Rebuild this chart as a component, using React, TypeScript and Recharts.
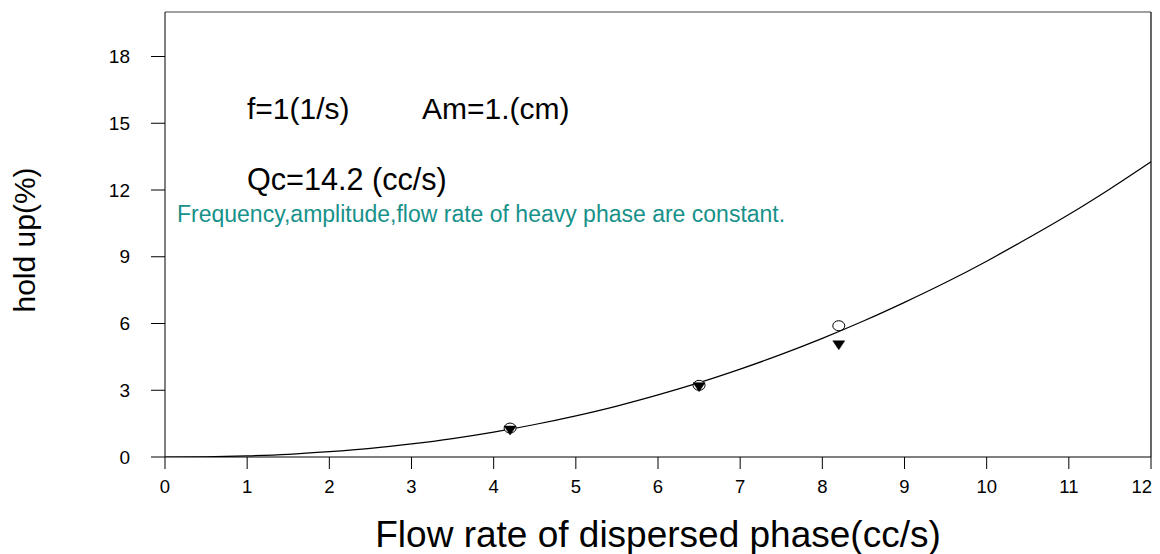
import React from 'react';
import { ComposedChart, Line, Scatter, XAxis, YAxis, Customized, ReferenceLine } from 'recharts';

const xTicks = [0, 1, 2, 3, 4, 5, 6, 7, 8, 9, 10, 11, 12];
const yTicks = [0, 3, 6, 9, 12, 15, 18];

const curveX = [0, 0.5, 1, 1.5, 2, 2.5, 3, 3.5, 4, 4.5, 5, 5.5, 6, 6.5, 7, 7.5, 8, 8.5, 9, 9.5, 10, 10.5, 11, 11.5, 12];
const curveY = [0, 0.01, 0.05, 0.12, 0.24, 0.39, 0.59, 0.83, 1.12, 1.46, 1.85, 2.29, 2.79, 3.34, 3.95, 4.61, 5.33, 6.11, 6.95, 7.84, 8.8, 9.83, 10.9, 12.05, 13.27];

const circleX = [4.2, 6.5, 8.2];
const circleY = [1.3, 3.22, 5.9];
const triX = [4.2, 6.5, 8.2];
const triY = [1.19, 3.14, 5.02];

const curveData = curveX.map((x, i) => ({ x, y: curveY[i] }));
const circleData = circleX.map((x, i) => ({ x, y: circleY[i] }));
const triData = triX.map((x, i) => ({ x, y: triY[i] }));

const FONT = 'Liberation Sans, Arial, Helvetica, sans-serif';
const LAST_X = xTicks[xTicks.length - 1];

const CircleShape = (props: any) => {
  const { cx, cy } = props;
  if (cx == null || cy == null) return null;
  return <ellipse cx={cx} cy={cy} rx={6} ry={5} fill="#fff" stroke="#000" strokeWidth={1} />;
};

const TriShape = (props: any) => {
  const { cx, cy } = props;
  if (cx == null || cy == null) return null;
  return <path d={`M${cx - 6},${cy - 4.5} L${cx + 6},${cy - 4.5} L${cx},${cy + 4.5} Z`} fill="#000" stroke="#000" strokeWidth={0.5} />;
};

const XTick = (props: any) => {
  const { x, y, payload } = props;
  const isLast = Number(payload?.value) === LAST_X;
  return (
    <text x={isLast ? x + 1 : x} y={y} dy="0.71em" textAnchor={isLast ? 'end' : 'middle'} fill="#000" fontSize={18.5} fontFamily={FONT}>
      {payload.value}
    </text>
  );
};

const Annotations = () => (
  <g fontFamily={FONT}>
    <text x={239} y={111} fontSize={30} fill="#000">f=1(1/s)</text>
    <text x={414} y={111} fontSize={30} fill="#000">Am=1.(cm)</text>
    <text x={239} y={182} fontSize={30.6} fill="#000">Qc=14.2 (cc/s)</text>
    <text x={169} y={213.5} fontSize={23} fill="#17918a">Frequency,amplitude,flow rate of heavy phase are constant.</text>
    <text x={650} y={539} fontSize={37} fill="#000" textAnchor="middle">Flow rate of dispersed phase(cc/s)</text>
    <text x={0} y={0} fontSize={30} fill="#000" textAnchor="middle" transform="translate(27,232) rotate(-90)">hold up(%)</text>
  </g>
);

export default function App() {
  return (
    <div style={{ width: 1144, height: 546 }}>
      <ComposedChart width={1144} height={546} margin={{ top: 4, right: 1, left: 0, bottom: 0 }}>
        <XAxis
          xAxisId="b"
          dataKey="x"
          type="number"
          domain={[0, 12]}
          ticks={xTicks}
          interval={0}
          height={97}
          tickSize={12}
          tickMargin={11}
          stroke="#000"
          tick={<XTick />}
          allowDataOverflow
        />
        <YAxis
          yAxisId="l"
          type="number"
          domain={[0, 20]}
          ticks={yTicks}
          interval={0}
          width={157}
          tickSize={14}
          tickMargin={21}
          stroke="#000"
          tick={{ fill: '#000', fontSize: 19, fontFamily: FONT }}
          allowDataOverflow
        />
        <ReferenceLine xAxisId="b" yAxisId="l" y={20} stroke="#808080" strokeWidth={1.5} ifOverflow="visible" />
        <ReferenceLine xAxisId="b" yAxisId="l" x={12} stroke="#000" strokeWidth={1.2} ifOverflow="visible" />
        <Line
          xAxisId="b"
          yAxisId="l"
          data={curveData}
          dataKey="y"
          type="monotone"
          stroke="#000"
          strokeWidth={1.2}
          dot={false}
          activeDot={false}
          isAnimationActive={false}
        />
        <Scatter xAxisId="b" yAxisId="l" data={circleData} dataKey="y" shape={CircleShape} isAnimationActive={false} />
        <Scatter xAxisId="b" yAxisId="l" data={triData} dataKey="y" shape={TriShape} isAnimationActive={false} />
        <Customized component={Annotations} />
      </ComposedChart>
    </div>
  );
}
